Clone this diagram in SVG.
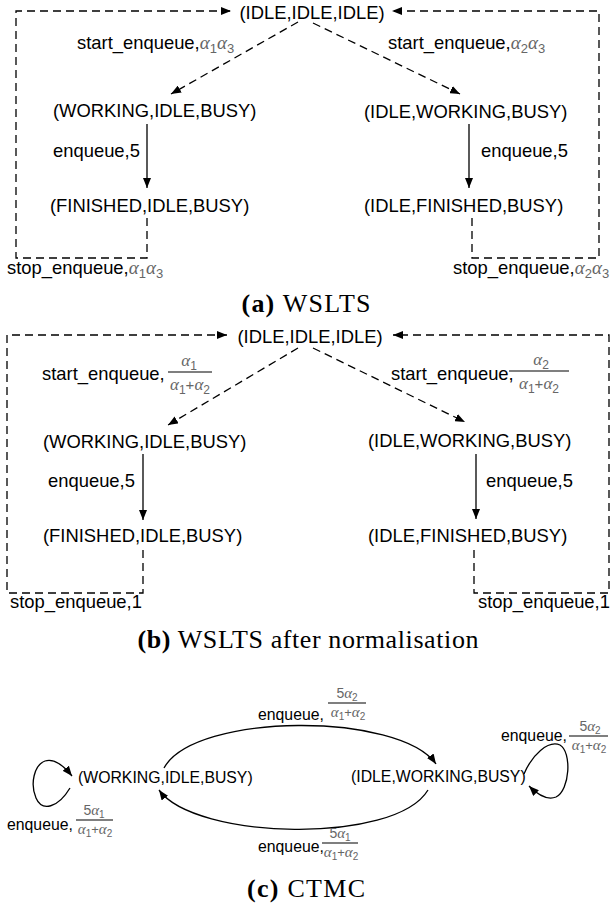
<svg xmlns="http://www.w3.org/2000/svg" width="612" height="910" viewBox="0 0 612 910">
<style>
text{font-family:"Liberation Sans",Arial,sans-serif;fill:#000}
.n{font-size:18.4px}
.l{font-size:18.4px}
.c{font-size:15.8px}
.m{font-family:"Liberation Serif","Times New Roman",serif;font-style:italic;fill:#666}
.sb{fill:#666}
.cap{font-family:"Liberation Serif","Times New Roman",serif;font-size:26px}
.ds{fill:none;stroke:#000;stroke-width:1.3;stroke-dasharray:8 5}
.sl{fill:none;stroke:#000;stroke-width:1.3}
.bar{stroke:#000;stroke-width:1.2}
</style>
<defs>
<marker id="ah" viewBox="0 0 10 8" refX="10" refY="4" markerWidth="10" markerHeight="8" orient="auto" markerUnits="userSpaceOnUse"><path d="M0,0 L10,4 L0,8 z" fill="#000"/></marker>
<marker id="ahs" viewBox="0 0 10 8" refX="10" refY="4" markerWidth="10" markerHeight="8" orient="auto" markerUnits="userSpaceOnUse"><path d="M0,0 L10,4 L0,8 z" fill="#000"/></marker>
</defs>

<!-- (a) WSLTS -->
<g id="connectors-a">
<path class="ds" d="M298,22 L171,94" marker-end="url(#ah)"/>
<path class="ds" d="M313,23 L460,94" marker-end="url(#ah)"/>
<path class="sl" d="M147,124 V188" marker-end="url(#ah)"/>
<path class="sl" d="M469,124 V188" marker-end="url(#ah)"/>
<path class="ds" d="M147,218 V258 H16 V11 H231" marker-end="url(#ah)"/>
<path class="ds" d="M472,218 V258 H599 V11 H392" marker-end="url(#ah)"/>
<text class="l" x="77" y="49">start_enqueue,<tspan class="m" font-size="19">α</tspan><tspan class="sb" font-size="13" dy="4">1</tspan><tspan class="m" font-size="19" dy="-4">α</tspan><tspan class="sb" font-size="13" dy="4">3</tspan></text>
<text class="l" x="388" y="49">start_enqueue,<tspan class="m" font-size="19">α</tspan><tspan class="sb" font-size="13" dy="4">2</tspan><tspan class="m" font-size="19" dy="-4">α</tspan><tspan class="sb" font-size="13" dy="4">3</tspan></text>
<text class="l" x="53" y="157">enqueue,5</text>
<text class="l" x="481" y="157">enqueue,5</text>
<text class="l" x="7" y="274">stop_enqueue,<tspan class="m" font-size="19">α</tspan><tspan class="sb" font-size="13" dy="4">1</tspan><tspan class="m" font-size="19" dy="-4">α</tspan><tspan class="sb" font-size="13" dy="4">3</tspan></text>
<text class="l" x="453" y="274">stop_enqueue,<tspan class="m" font-size="19">α</tspan><tspan class="sb" font-size="13" dy="4">2</tspan><tspan class="m" font-size="19" dy="-4">α</tspan><tspan class="sb" font-size="13" dy="4">3</tspan></text>
</g>
<g id="a-idle"><text class="n" x="312" y="19" text-anchor="middle">(IDLE,IDLE,IDLE)</text></g>
<g id="a-working-idle"><text class="n" x="53" y="117">(WORKING,IDLE,BUSY)</text></g>
<g id="a-idle-working"><text class="n" x="364" y="118">(IDLE,WORKING,BUSY)</text></g>
<g id="a-finished-idle"><text class="n" x="50" y="212">(FINISHED,IDLE,BUSY)</text></g>
<g id="a-idle-finished"><text class="n" x="364" y="212">(IDLE,FINISHED,BUSY)</text></g>
<text class="cap" x="306" y="312" text-anchor="middle" textLength="129"><tspan font-weight="bold">(a)</tspan> WSLTS</text>

<!-- (b) WSLTS after normalisation -->
<g id="connectors-b">
<path class="ds" d="M298,348 L168,425" marker-end="url(#ah)"/>
<path class="ds" d="M313,348 L465,422" marker-end="url(#ah)"/>
<path class="sl" d="M143,454 V520" marker-end="url(#ah)"/>
<path class="sl" d="M476,454 V519" marker-end="url(#ah)"/>
<path class="ds" d="M143,550 V593 H7 V335 H227" marker-end="url(#ah)"/>
<path class="ds" d="M474,550 V593 H609 V335 H393" marker-end="url(#ah)"/>
<text class="l" x="42" y="380">start_enqueue,</text>
<line class="bar" x1="168" y1="372" x2="212" y2="372"/>
<text x="189" y="366" text-anchor="middle"><tspan class="m" font-size="17">α</tspan><tspan class="sb" font-size="12" dy="4">1</tspan></text>
<text x="190" y="390" text-anchor="middle"><tspan class="m" font-size="17">α</tspan><tspan class="sb" font-size="12" dy="4">1</tspan><tspan class="sb" font-size="15" dy="-4">+</tspan><tspan class="m" font-size="17">α</tspan><tspan class="sb" font-size="12" dy="4">2</tspan></text>
<text class="l" x="391" y="380">start_enqueue,</text>
<line class="bar" x1="509" y1="371" x2="569" y2="371"/>
<text x="541" y="365" text-anchor="middle"><tspan class="m" font-size="17">α</tspan><tspan class="sb" font-size="12" dy="4">2</tspan></text>
<text x="539" y="389" text-anchor="middle"><tspan class="m" font-size="17">α</tspan><tspan class="sb" font-size="12" dy="4">1</tspan><tspan class="sb" font-size="15" dy="-4">+</tspan><tspan class="m" font-size="17">α</tspan><tspan class="sb" font-size="12" dy="4">2</tspan></text>
<text class="l" x="48" y="487">enqueue,5</text>
<text class="l" x="486" y="487">enqueue,5</text>
<text class="l" x="10" y="608">stop_enqueue,1</text>
<text class="l" x="478" y="608">stop_enqueue,1</text>
</g>
<g id="b-idle"><text class="n" x="310" y="343" text-anchor="middle">(IDLE,IDLE,IDLE)</text></g>
<g id="b-working-idle"><text class="n" x="43" y="448">(WORKING,IDLE,BUSY)</text></g>
<g id="b-idle-working"><text class="n" x="368" y="447">(IDLE,WORKING,BUSY)</text></g>
<g id="b-finished-idle"><text class="n" x="43" y="542">(FINISHED,IDLE,BUSY)</text></g>
<g id="b-idle-finished"><text class="n" x="368" y="542">(IDLE,FINISHED,BUSY)</text></g>
<text class="cap" x="308" y="648" text-anchor="middle" textLength="341"><tspan font-weight="bold">(b)</tspan> WSLTS after normalisation</text>

<!-- (c) CTMC -->
<g id="connectors-c">
<path class="sl" d="M164,768 C195,712 400,712 436,764" marker-end="url(#ahs)"/>
<path class="sl" d="M428,790 C395,845 195,840 159,790" marker-end="url(#ahs)"/>
<path class="sl" d="M70,788 C58,808 42,812 36,798 C30,784 34,765 45,761 C55,758 64,766 72,776" marker-end="url(#ahs)"/>
<path class="sl" d="M524,774 C532,755 548,740 560,745 C572,752 570,790 556,797 C546,801 536,793 529,786" marker-end="url(#ahs)"/>
<text class="c" x="258" y="720">enqueue,</text>
<line class="bar" x1="328" y1="703" x2="366" y2="703"/>
<text x="347" y="698" text-anchor="middle"><tspan class="sb" font-size="14">5</tspan><tspan class="m" font-size="15">α</tspan><tspan class="sb" font-size="10" dy="3">2</tspan></text>
<text x="348" y="717" text-anchor="middle"><tspan class="m" font-size="15">α</tspan><tspan class="sb" font-size="10" dy="3">1</tspan><tspan class="sb" font-size="13" dy="-3">+</tspan><tspan class="m" font-size="15">α</tspan><tspan class="sb" font-size="10" dy="3">2</tspan></text>
<text class="c" x="501" y="741">enqueue,</text>
<line class="bar" x1="569" y1="736" x2="608" y2="736"/>
<text x="590" y="731" text-anchor="middle"><tspan class="sb" font-size="14">5</tspan><tspan class="m" font-size="15">α</tspan><tspan class="sb" font-size="10" dy="3">2</tspan></text>
<text x="589" y="750" text-anchor="middle"><tspan class="m" font-size="15">α</tspan><tspan class="sb" font-size="10" dy="3">1</tspan><tspan class="sb" font-size="13" dy="-3">+</tspan><tspan class="m" font-size="15">α</tspan><tspan class="sb" font-size="10" dy="3">2</tspan></text>
<text class="c" x="7" y="830">enqueue,</text>
<line class="bar" x1="76" y1="820" x2="113" y2="820"/>
<text x="94" y="815" text-anchor="middle"><tspan class="sb" font-size="14">5</tspan><tspan class="m" font-size="15">α</tspan><tspan class="sb" font-size="10" dy="3">1</tspan></text>
<text x="95" y="834" text-anchor="middle"><tspan class="m" font-size="15">α</tspan><tspan class="sb" font-size="10" dy="3">1</tspan><tspan class="sb" font-size="13" dy="-3">+</tspan><tspan class="m" font-size="15">α</tspan><tspan class="sb" font-size="10" dy="3">2</tspan></text>
<text class="c" x="258" y="852">enqueue,</text>
<line class="bar" x1="322" y1="843" x2="358" y2="843"/>
<text x="340" y="838" text-anchor="middle"><tspan class="sb" font-size="14">5</tspan><tspan class="m" font-size="15">α</tspan><tspan class="sb" font-size="10" dy="3">1</tspan></text>
<text x="341" y="857" text-anchor="middle"><tspan class="m" font-size="15">α</tspan><tspan class="sb" font-size="10" dy="3">1</tspan><tspan class="sb" font-size="13" dy="-3">+</tspan><tspan class="m" font-size="15">α</tspan><tspan class="sb" font-size="10" dy="3">2</tspan></text>
</g>
<g id="c-working-idle"><text class="c" x="78" y="783">(WORKING,IDLE,BUSY)</text></g>
<g id="c-idle-working"><text class="c" x="351" y="782">(IDLE,WORKING,BUSY)</text></g>
<text class="cap" x="306" y="897" text-anchor="middle" textLength="118"><tspan font-weight="bold">(c)</tspan> CTMC</text>
</svg>
